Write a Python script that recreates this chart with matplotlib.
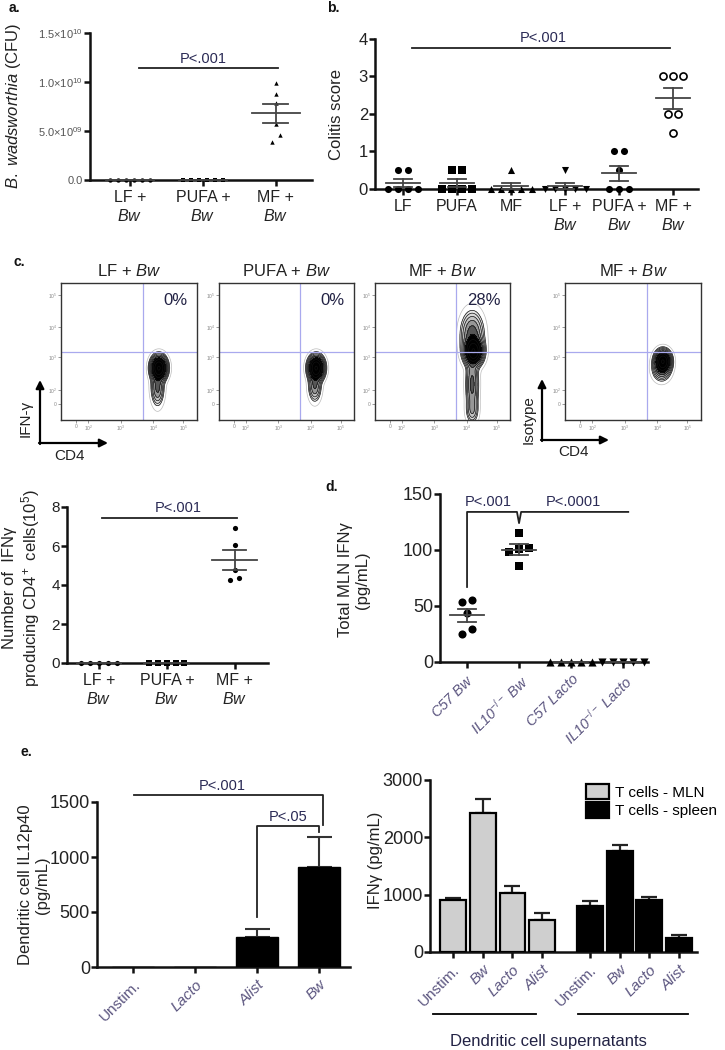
import numpy as np
import matplotlib
matplotlib.use('Agg')
from matplotlib import pyplot as plt
from matplotlib import transforms

plt.rcParams['font.family'] = ['Liberation Sans', 'DejaVu Sans']
plt.rcParams['mathtext.fontset'] = 'custom'
plt.rcParams['mathtext.rm'] = 'Liberation Sans'
plt.rcParams['mathtext.it'] = 'Liberation Sans:italic'
plt.rcParams['mathtext.bf'] = 'Liberation Sans:bold'
plt.rcParams['axes.unicode_minus'] = False

# ---- data ----
# a. B. wadsworthia CFU
a_labels = ['LF +\n$Bw$', 'PUFA +\n$Bw$', 'MF +\n$Bw$']
a_vals = [[0, 0, 0, 0, 0, 0],
          [0, 0, 0, 0, 0, 0],
          [0.99e10, 0.88e10, 0.79e10, 0.57e10, 0.46e10, 0.39e10]]
a_ticks = [0, 0.5e10, 1.0e10, 1.5e10]
a_ticklabels = ['0.0', '5.0\u00d710$^{09}$', '1.0\u00d710$^{10}$', '1.5\u00d710$^{10}$']

# b. colitis score
b_labels = ['LF', 'PUFA', 'MF', 'LF +\n$Bw$', 'PUFA +\n$Bw$', 'MF +\n$Bw$']
b_vals = [[0.5, 0.5, 0, 0, 0, 0],
          [0.5, 0.5, 0, 0, 0, 0],
          [0.5, 0, 0, 0, 0, 0],
          [0.5, 0, 0, 0, 0, 0],
          [1, 1, 0.5, 0, 0, 0],
          [3, 3, 3, 2, 2, 1.5]]
b_markers = ['o', 's', '^', 'v', 'o', 'o']

# c. flow cytometry (population centres / spreads in plot units)
flow_titles = ['LF + $Bw$', 'PUFA + $Bw$', 'MF + $Bw$', 'MF + $Bw$']
flow_pct = ['0%', '0%', '28%', '']
flow_pops = [
    [(0.72, 0.38, 0.03, 0.045, 1.0), (0.71, 0.24, 0.025, 0.07, 0.2)],
    [(0.72, 0.38, 0.03, 0.045, 1.0), (0.71, 0.25, 0.025, 0.06, 0.18)],
    [(0.73, 0.50, 0.035, 0.05, 1.0), (0.72, 0.62, 0.045, 0.09, 0.25),
     (0.72, 0.26, 0.025, 0.11, 0.22), (0.72, 0.07, 0.025, 0.05, 0.1)],
    [(0.72, 0.43, 0.03, 0.04, 1.0), (0.71, 0.37, 0.035, 0.045, 0.2)],
]
c2_labels = ['LF +\n$Bw$', 'PUFA +\n$Bw$', 'MF +\n$Bw$']
c2_vals = [[0, 0, 0, 0, 0],
           [0, 0, 0, 0, 0],
           [6.9, 6.05, 4.77, 4.26, 4.36]]

# d. total MLN IFNg
d_labels = ['C57 $Bw$', 'IL10$^{-/-}$ $Bw$', 'C57 Lacto', 'IL10$^{-/-}$ Lacto']
d_vals = [[53.7, 55.2, 43.9, 25.4, 29.9],
          [115, 101, 98, 102, 86],
          [0, 0, 0, 0, 0],
          [0, 0, 0, 0, 0]]
d_markers = ['o', 's', '^', 'v']

# e. dendritic cell IL12p40
e1_labels = ['Unstim.', 'Lacto', 'Alist', 'Bw']
e1_italic = [False, True, True, True]
e1_vals = [0, 0, 273, 909]
e1_err = [0, 0, 75, 273]

# e. IFNg from T cells
e2_labels = ['Unstim.', 'Bw', 'Lacto', 'Alist']
e2_italic = [False, True, True, True]
e2_mln = [915, 2417, 1037, 553]
e2_mln_err = [29, 245, 116, 134]
e2_spleen = [804, 1759, 903, 250]
e2_spleen_err = [81, 105, 58, 41]

# ---- figure ----
W, H = 725, 1050
fig = plt.figure(figsize=(W / 100, H / 100), dpi=100)
TXT = '#222222'


def px_axes(x0, y0, x1, y1):
    return fig.add_axes([x0 / W, 1 - y1 / H, (x1 - x0) / W, (y1 - y0) / H])


def prism(ax, lw=1.8, ysize=11, xsize=11):
    for sp in ['top', 'right']:
        ax.spines[sp].set_visible(False)
    for sp in ['left', 'bottom']:
        ax.spines[sp].set_linewidth(lw)
        ax.spines[sp].set_color('#111111')
    ax.tick_params(direction='out', width=lw, length=4, colors='#111111')
    ax.tick_params(axis='y', labelsize=ysize, labelcolor=TXT, pad=1)
    ax.tick_params(axis='x', labelsize=xsize, labelcolor=TXT)


def spread_x(vals, center, tol, step):
    vals = np.asarray(vals, float)
    order = np.argsort(vals)
    xs = np.full(len(vals), float(center))
    clusters, cur = [], [order[0]]
    for j in order[1:]:
        if vals[j] - vals[cur[-1]] <= tol:
            cur.append(j)
        else:
            clusters.append(cur)
            cur = [j]
    clusters.append(cur)
    for c in clusters:
        n = len(c)
        xs[c] = center + (np.arange(n) - (n - 1) / 2) * step
    return xs


def dots(ax, groups, markers, size, tol, step, mw, sw, hollow=()):
    for i, vals in enumerate(groups):
        vals = np.asarray(vals, float)
        xs = spread_x(vals, i, tol, step)
        if i in hollow:
            ax.scatter(xs, vals, s=size, marker=markers[i], facecolor='white',
                       edgecolor='k', linewidth=1.2, zorder=4, clip_on=False)
        else:
            ax.scatter(xs, vals, s=size, marker=markers[i], color='k',
                       linewidth=0, zorder=4, clip_on=False)
        m = vals.mean()
        s = vals.std(ddof=1) / np.sqrt(len(vals))
        kw = dict(color='#444444', lw=1.3, zorder=5, clip_on=False)
        ax.plot([i - mw, i + mw], [m, m], **kw)
        if s > 0:
            ax.plot([i, i], [m - s, m + s], **kw)
            ax.plot([i - sw, i + sw], [m + s, m + s], **kw)
            ax.plot([i - sw, i + sw], [m - s, m - s], **kw)


def p_text(ax, x, y, s, size=10.5):
    ax.annotate(s, (x, y), xytext=(0, 2), textcoords='offset points',
                ha='center', va='bottom', fontsize=size, color='#2a2a55',
                annotation_clip=False)


line_kw = dict(color='#222222', lw=1.3, clip_on=False)

# a.
ax = px_axes(90, 33, 312, 180)
prism(ax, ysize=8, xsize=11.5)
dots(ax, a_vals, ['o', 's', '^'], 10, 0.08e10, 0.11, 0.33, 0.17)
ax.set_xlim(-0.55, 2.5)
ax.set_ylim(0, 1.5e10)
ax.set_yticks(a_ticks)
ax.set_yticklabels(a_ticklabels, color='#555555')
ax.set_xticks(range(3))
ax.set_xticklabels(a_labels)
ax.plot([0.12, 2.03], [1.14e10, 1.14e10], **line_kw)
p_text(ax, 1.0, 1.14e10, 'P<.001')

# b.
ax = px_axes(375, 39, 698, 189)
prism(ax, ysize=12, xsize=11.5)
dots(ax, b_vals, b_markers, 26, 0.1, 0.19, 0.31, 0.17, hollow=(5,))
ax.set_xlim(-0.52, 5.46)
ax.set_ylim(0, 4)
ax.set_yticks([0, 1, 2, 3, 4])
ax.set_xticks(range(6))
ax.set_xticklabels(b_labels)
ax.plot([0.17, 4.94], [3.76, 3.76], **line_kw)
p_text(ax, 2.6, 3.76, 'P<.001')

# c. flow plots
gx, gy = np.meshgrid(np.linspace(0, 1, 300), np.linspace(0, 1, 300))
flow_x = [(61, 197), (219, 354), (375, 510), (565, 701)]
for k, (x0, x1) in enumerate(flow_x):
    ax = px_axes(x0, 283, x1, 420)
    z = np.zeros_like(gx)
    for cx, cy, sx, sy, w in flow_pops[k]:
        z += w * np.exp(-((gx - cx) ** 2 / (2 * sx ** 2) + (gy - cy) ** 2 / (2 * sy ** 2)))
    lev = z.max() * np.geomspace(0.03, 0.95, 9)
    ax.contourf(gx, gy, z, levels=np.append(lev, z.max() * 2), cmap='Greys',
                vmin=-z.max() * 0.02, vmax=z.max() * 0.3)
    ax.contour(gx, gy, z, levels=lev, colors='#111111', linewidths=0.5)
    ax.contour(gx, gy, z, levels=[z.max() * 0.008], colors='#bbbbbb', linewidths=0.5)
    ax.axvline(0.6, color='#a9a9ee', lw=0.9)
    ax.axhline(0.5, color='#a9a9ee', lw=0.9)
    ax.set_xlim(0, 1)
    ax.set_ylim(0, 1)
    for sp in ax.spines.values():
        sp.set_color('#333333')
        sp.set_linewidth(1.0)
    ax.set_xticks([0.11, 0.2, 0.44, 0.68, 0.9])
    ax.set_xticklabels(['0', '10$^2$', '10$^3$', '10$^4$', '10$^5$'])
    ax.set_yticks([0.12, 0.22, 0.46, 0.68, 0.91])
    ax.set_yticklabels(['0', '10$^2$', '10$^3$', '10$^4$', '10$^5$'])
    ax.tick_params(length=2, width=0.6, labelsize=3.5, colors='#888888', pad=1)
    ax.set_title(flow_titles[k], fontsize=12, color=TXT, pad=5)
    if flow_pct[k]:
        ax.text(0.93, 0.87, flow_pct[k], transform=ax.transAxes, ha='right',
                va='center', fontsize=12, color='#222244')

# c. IFNg producing CD4 cells
ax = px_axes(67, 507, 268, 663)
prism(ax, ysize=11, xsize=11.5)
dots(ax, c2_vals, ['o', 's', 'o'], 14, 0.3, 0.13, 0.33, 0.17)
ax.set_xlim(-0.47, 2.49)
ax.set_ylim(0, 8)
ax.set_yticks([0, 2, 4, 6, 8])
ax.set_xticks(range(3))
ax.set_xticklabels(c2_labels)
ax.plot([0.04, 2.03], [7.44, 7.44], **line_kw)
p_text(ax, 1.17, 7.44, 'P<.001')

# d.
ax = px_axes(440, 494, 648, 662)
prism(ax, ysize=13, xsize=10.5)
dots(ax, d_vals, d_markers, 34, 8, 0.2, 0.33, 0.17)
ax.set_xlim(-0.52, 3.48)
ax.set_ylim(0, 150)
ax.set_yticks([0, 50, 100, 150])
ax.set_xticks(range(4))
ax.set_xticklabels(d_labels, rotation=45, ha='right', rotation_mode='anchor',
                   fontstyle='italic', color='#5c5680')
ax.plot([0, 0, 0.96, 1.0, 1.04, 3.1], [67, 134, 134, 124, 134, 134], **line_kw)
p_text(ax, 0.4, 134, 'P<.001')
p_text(ax, 2.04, 134, 'P<.0001')

# e. IL12p40
ax = px_axes(97, 802, 350, 967)
prism(ax, ysize=13, xsize=11)
x1 = np.arange(len(e1_vals))
ax.bar(x1, e1_vals, width=0.69, color='k', edgecolor='k', zorder=3)
ax.errorbar(x1[2:], e1_vals[2:], yerr=[np.zeros(2), e1_err[2:]], fmt='none',
            ecolor='#333333', elinewidth=1.5, capsize=9, capthick=1.5, zorder=2)
ax.set_xlim(-0.58, 3.5)
ax.set_ylim(0, 1500)
ax.set_yticks([0, 500, 1000, 1500])
ax.set_xticks(x1)
ax.set_xticklabels(e1_labels, rotation=45, ha='right', rotation_mode='anchor',
                   color='#5c5680')
for lbl, it in zip(ax.get_xticklabels(), e1_italic):
    lbl.set_fontstyle('italic' if it else 'normal')
ax.plot([0.02, 3.06, 3.06], [1560, 1560, 1290], **line_kw)
ax.plot([2.0, 2.0, 3.0, 3.0], [455, 1279, 1279, 1230], **line_kw)
p_text(ax, 1.44, 1560, 'P<.001')
p_text(ax, 2.5, 1279, 'P<.05')

# e. IFNg
ax = px_axes(430, 780, 697, 952)
prism(ax, ysize=13, xsize=11)
xm = np.arange(4)
xs = xm + 4.6
ax.bar(xm, e2_mln, width=0.87, color='#cfcfcf', edgecolor='k', linewidth=1.6,
       zorder=3, label='T cells - MLN')
ax.bar(xs, e2_spleen, width=0.87, color='k', edgecolor='k', linewidth=1.6,
       zorder=3, label='T cells - spleen')
ax.errorbar(xm, e2_mln, yerr=[np.zeros(4), e2_mln_err], fmt='none',
            ecolor='#222222', elinewidth=1.6, capsize=6, capthick=1.6, zorder=2)
ax.errorbar(xs, e2_spleen, yerr=[np.zeros(4), e2_spleen_err], fmt='none',
            ecolor='#222222', elinewidth=1.6, capsize=6, capthick=1.6, zorder=2)
ax.set_xlim(-0.77, 8.2)
ax.set_ylim(0, 3000)
ax.set_yticks([0, 1000, 2000, 3000])
ax.set_xticks(np.concatenate([xm, xs]))
ax.set_xticklabels(e2_labels + e2_labels, rotation=45, ha='right',
                   rotation_mode='anchor', color='#5c5680')
for lbl, it in zip(ax.get_xticklabels(), e2_italic + e2_italic):
    lbl.set_fontstyle('italic' if it else 'normal')
ax.legend(loc='upper left', bbox_to_anchor=(578 / W, 1 - 776 / H),
          bbox_transform=fig.transFigure, frameon=False, fontsize=11,
          handlelength=1.5, handleheight=1.2, handletextpad=0.4,
          labelspacing=0.15, borderpad=0)
trans = transforms.blended_transform_factory(ax.transData, ax.transAxes)
ax.plot([-0.67, 2.8], [-0.36, -0.36], transform=trans, color='k', lw=1.3, clip_on=False)
ax.plot([4.2, 7.9], [-0.36, -0.36], transform=trans, color='k', lw=1.3, clip_on=False)
ax.text(3.2, -0.52, 'Dendritic cell supernatants', transform=trans, ha='center',
        va='center', fontsize=12, color='#222244')

# overlay: panel letters, axis labels, arrows
ov = fig.add_axes([0, 0, 1, 1])
ov.set_xlim(0, W)
ov.set_ylim(H, 0)
ov.axis('off')
for s, x, y in [('a.', 14, 8), ('b.', 333, 8), ('c.', 19, 262), ('d.', 332, 487), ('e.', 26, 752)]:
    ov.text(x, y, s, fontsize=10, fontweight='bold', ha='center', va='center', color='#111111')

ylab = dict(rotation=90, ha='center', va='center', fontsize=12, color=TXT)
ov.text(14, 106, '$B.$ $wadsworthia$ (CFU)', **ylab)
ov.text(337, 114, 'Colitis score', **ylab)
ov.text(22, 588, 'Number of  IFN\u03b3\nproducing CD4$^+$ cells(10$^5$)', linespacing=1.1, **ylab)
ov.text(354, 580, 'Total MLN IFN\u03b3\n(pg/mL)', linespacing=1.1, **ylab)
ov.text(34, 885, 'Dendritic cell IL12p40\n(pg/mL)', linespacing=1.1, **ylab)
ov.text(376, 860, 'IFN\u03b3 (pg/mL)', **ylab)

arr = dict(arrowstyle='-|>', lw=1.6, color='k', mutation_scale=12, shrinkA=0, shrinkB=0)
ov.annotate('', xy=(40, 380), xytext=(40, 444), arrowprops=arr)
ov.annotate('', xy=(108, 443), xytext=(39, 443), arrowprops=arr)
ov.text(26, 418, 'IFN-\u03b3', rotation=90, ha='center', va='center', fontsize=11, color=TXT)
ov.text(70, 456, 'CD4', ha='center', va='center', fontsize=11, color=TXT)
ov.annotate('', xy=(542, 379), xytext=(542, 441), arrowprops=arr)
ov.annotate('', xy=(609, 440), xytext=(541, 440), arrowprops=arr)
ov.text(529, 420, 'Isotype', rotation=90, ha='center', va='center', fontsize=11, color=TXT)
ov.text(574, 452, 'CD4', ha='center', va='center', fontsize=11, color=TXT)

fig.savefig('out.png', dpi=100)
